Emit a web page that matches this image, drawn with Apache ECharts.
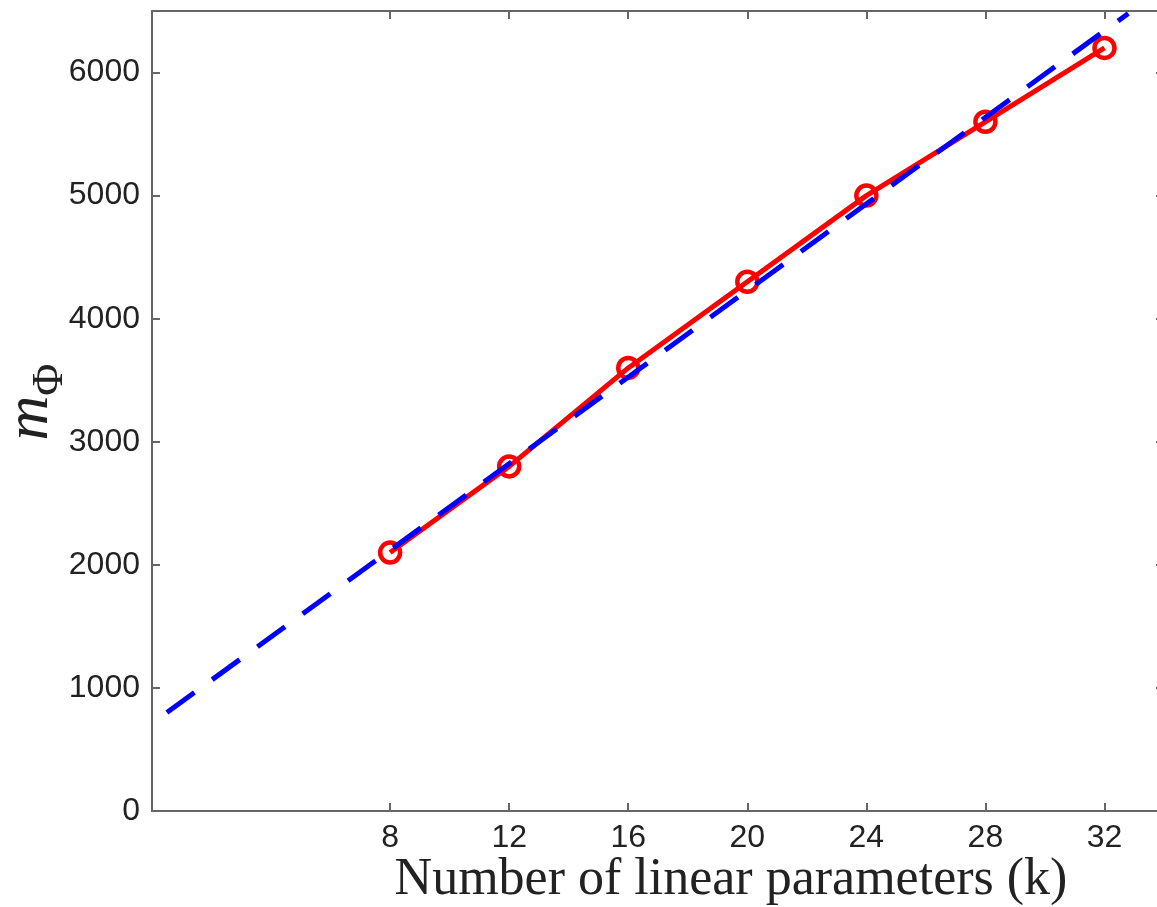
<!DOCTYPE html>
<html>
<head>
<meta charset="utf-8">
<script src="https://cdn.jsdelivr.net/npm/echarts@6/dist/echarts.min.js"></script>
<style>
  html, body { margin: 0; padding: 0; background: #fff; overflow: hidden; }
  #chart { width: 1157px; height: 907px; }
</style>
</head>
<body>
<div id="chart"></div>
<script>
// 测量值（红线）
var kValues = [8, 12, 16, 20, 24, 28, 32];
var mPhiValues = [2100, 2800, 3600, 4300, 5000, 5600, 6200];
// 拟合直线（蓝色虚线）端点
var fitK = [0.5, 32.8];
var fitM = [800, 6480];
// 刻度
var xTicks = [8, 12, 16, 20, 24, 28, 32];
var yTicks = [0, 1000, 2000, 3000, 4000, 5000, 6000];

var axisColor = '#666';
var labelFont = '"Liberation Sans", Arial, sans-serif';
var serifFont = '"Liberation Serif", "DejaVu Serif", serif';

var chart = echarts.init(document.getElementById('chart'));

function pairs(xs, ys) {
    return xs.map(function (x, i) { return [x, ys[i]]; });
}

function plain(v) {
    return String(v);
}

// 坐标轴公共部分
function makeAxis(max, ticks, position, extra) {
    var axis = {
        type: 'value', min: 0, max: max,
        position: position,
        nameMoveOverlap: false,
        axisLine: { show: true, onZero: false, lineStyle: { color: axisColor, width: 2 } },
        axisTick: { show: true, inside: true, length: 8, customValues: ticks, lineStyle: { color: axisColor, width: 2 } },
        axisLabel: { show: false },
        splitLine: { show: false }
    };
    for (var key in extra) {
        axis[key] = extra[key];
    }
    return axis;
}

chart.setOption({
    animation: false,
    grid: { left: 152, top: 11, right: -7, bottom: 96, outerBoundsMode: 'none', containLabel: false },
    xAxis: [
        makeAxis(34, xTicks, 'bottom', {
            axisLabel: { customValues: xTicks, formatter: plain, fontSize: 32, color: '#222', fontFamily: labelFont, margin: 11 },
            name: 'Number of linear parameters (k)',
            nameLocation: 'middle',
            nameGap: 43,
            nameTextStyle: { fontSize: 52, color: '#222', fontFamily: serifFont, padding: [0, 0, 0, 146] }
        }),
        makeAxis(34, xTicks, 'top', {})
    ],
    yAxis: [
        makeAxis(6500, yTicks, 'left', {
            axisLabel: { customValues: yTicks, formatter: plain, fontSize: 32, color: '#222', fontFamily: labelFont, margin: 12 },
            name: '{m|m}{s|Φ}',
            nameLocation: 'middle',
            nameRotate: 90,
            nameGap: 90,
            nameTextStyle: {
                padding: [0, 0, 0, 18],
                rich: {
                    m: { fontSize: 62, fontStyle: 'italic', fontFamily: serifFont, color: '#222' },
                    s: { fontSize: 44, fontFamily: serifFont, color: '#222', verticalAlign: 'bottom', padding: [0, 0, -10, 0] }
                }
            }
        }),
        makeAxis(6500, yTicks, 'right', {})
    ],
    series: [
        {
            type: 'line',
            data: pairs(kValues, mPhiValues),
            lineStyle: { color: '#ff0000', width: 5 },
            itemStyle: { color: 'rgba(0,0,0,0)', borderColor: '#ff0000', borderWidth: 4.5 },
            symbol: 'circle',
            symbolSize: 20,
            z: 2
        },
        {
            type: 'line',
            data: pairs(fitK, fitM),
            lineStyle: { color: '#0000ff', width: 5, type: [34, 22] },
            symbol: 'none',
            z: 3
        }
    ]
});
</script>
</body>
</html>
